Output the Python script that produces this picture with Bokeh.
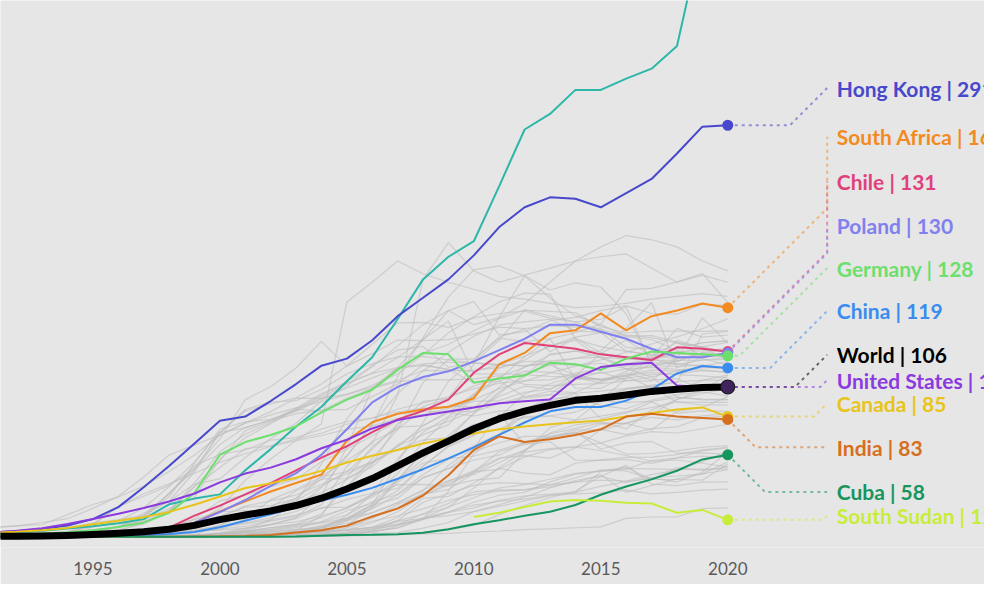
import math
from bokeh.plotting import figure
from bokeh.models import Range1d, FixedTicker
from bokeh.core.properties import value
from bokeh.embed import file_html
from bokeh.resources import INLINE

years = list(range(1990, 2021))
tick_years = [1995, 2000, 2005, 2010, 2015, 2020]
south_sudan_years = list(range(2010, 2021))

# ---- highlighted series (mobile subscriptions per 100 people) ----
macao = [1.5, 2.2, 3.0, 4.2, 5.8, 7.5, 9.5, 12.5, 23, 27,
         30, 47, 62, 78, 92, 110, 127, 154, 182, 198,
         209, 248, 288, 299, 316, 316, 324, 331, 347, 427, 445]
hong_kong = [2.3, 3.0, 4.0, 5.5, 8.0, 12.5, 21, 35, 50, 66,
             82, 85, 96, 108, 121, 126, 139, 156, 169, 182,
             199, 219, 233, 240, 239, 233, 243, 253, 271, 290, 291]
south_africa = [0, 0, 0, 0.1, 0.3, 1.3, 2.3, 3.7, 5.6, 10,
                18, 25, 32, 38, 44, 68, 81, 87, 90, 92,
                98, 122, 130, 144, 146, 158, 146, 156, 160, 165, 162]
chile = [0.1, 0.3, 0.5, 0.7, 0.9, 1.4, 2.2, 2.8, 6.5, 15,
         22, 30, 38, 47, 56, 64, 74, 83, 89, 97,
         116, 129, 137, 135, 133, 129, 127, 125, 134, 133, 131]
poland = [0, 0, 0, 0.1, 0.2, 0.2, 0.5, 2.1, 5, 10,
          17.5, 26, 36, 45, 58, 76, 95, 106, 113, 117,
          124, 132, 140, 150, 150, 145, 140, 133, 127, 127, 130]
germany = [0.3, 0.7, 1.2, 2.2, 3.0, 4.6, 6.9, 10, 17, 31,
           58, 67, 72, 78, 88, 97, 104, 118, 130, 129,
           109, 112, 114, 123, 122, 118, 126, 131, 130, 129, 128]
china = [0, 0, 0, 0.1, 0.1, 0.3, 0.6, 1.1, 1.9, 3.4,
         6.7, 11.4, 16, 20.8, 25.6, 29.7, 34.6, 41, 47.8, 55.4,
         63.2, 72, 80.8, 88.7, 91.8, 91.8, 96.3, 104, 115.5, 120.8, 119.4]
world = [0.2, 0.3, 0.4, 0.6, 1.0, 1.6, 2.5, 3.6, 5.3, 8.1,
         12.1, 15.4, 18.3, 22.1, 27.3, 33.8, 41.2, 50.1, 59.3, 67.7,
         76.4, 83.5, 88.9, 92.9, 96.5, 98.0, 100.3, 102.8, 104.4, 105.6, 106.0]
united_states = [2.1, 3.0, 4.3, 6.1, 9.1, 12.6, 16.3, 20.3, 25, 30.6,
                 38.5, 44.7, 48.9, 54.8, 62.6, 68.6, 76.6, 82.5, 85.7, 88.6,
                 91.4, 94.4, 95.9, 97.1, 112, 120, 122, 123, 107, 106, 106]
canada = [2.1, 2.8, 3.6, 4.6, 6.3, 8.8, 11.4, 13.9, 17.6, 22.7,
          28.5, 34.5, 37.8, 41.8, 46.6, 52.5, 57.3, 61.4, 66, 69.6,
          73, 76, 78, 79.5, 81, 82.3, 85, 87.5, 90, 91.5, 85]
india = [0, 0, 0, 0, 0, 0, 0, 0.1, 0.1, 0.2,
         0.3, 0.6, 1.2, 3.1, 4.7, 7.9, 14.4, 19.9, 29.2, 43.5,
         61.4, 71, 67, 69, 72, 76, 85, 87, 85, 84, 83]
cuba = [0, 0, 0, 0, 0, 0, 0, 0, 0, 0,
        0.1, 0.1, 0.1, 0.2, 0.7, 1.2, 1.4, 1.8, 2.9, 5.4,
        8.9, 11.7, 14.9, 17.7, 22.5, 29.7, 35.6, 40.6, 46.7, 54.7, 58]
south_sudan = [14, 17, 21, 25, 26, 25.5, 24, 23.5, 17, 19, 12]

# ---- background countries ----
grey_italy = [0.5, 1.0, 1.4, 2.1, 3.8, 6.9, 11.1, 20.4, 35.6, 52.9, 74.1, 89.0, 93.9, 98.3, 108.0, 121.0, 136.1, 151.3, 151.6, 148.1, 154.8, 157.9, 159.5, 154.6, 151.8, 146.1, 142.7, 140.8, 137.0, 133.9, 130.3]
grey_finland = [5.2, 6.3, 7.7, 10.1, 12.8, 20.1, 28.6, 42.3, 57.8, 65.0, 72.0, 80.4, 86.2, 91.1, 95.5, 100.5, 107.1, 115.2, 128.8, 144.2, 155.6, 166.0, 172.3, 171.6, 139.6, 134.5, 131.1, 129.0, 129.3, 128.4, 128.0]
grey_sweden = [5.4, 6.6, 7.7, 8.7, 15.7, 22.8, 28.1, 35.8, 46.2, 57.9, 71.8, 80.5, 88.5, 98.0, 97.9, 100.9, 105.6, 110.7, 117.6, 117.4, 117.9, 119.6, 123.9, 124.2, 126.2, 127.1, 125.6, 124.9, 124.7, 124.9, 125.4]
grey_japan = [0.7, 1.1, 1.4, 1.7, 3.5, 9.2, 21.3, 30.4, 37.4, 44.9, 52.6, 58.7, 63.7, 67.9, 71.6, 75.9, 78.4, 83.5, 86.5, 90.8, 96.8, 104.8, 110.0, 115.9, 120.7, 125.1, 130.5, 136.3, 141.4, 147.1, 154.2]
grey_uk = [1.9, 2.2, 2.6, 3.8, 6.4, 9.8, 12.2, 15.1, 25.3, 46.0, 73.8, 77.0, 82.6, 90.8, 101.3, 108.6, 115.5, 119.6, 122.2, 123.4, 122.8, 121.7, 121.1, 121.9, 121.3, 122.7, 118.8, 119.8, 118.4, 117.8, 116.3]
grey_russia = [0, 0, 0, 0, 0, 0.1, 0.2, 0.3, 0.5, 0.9, 2.2, 5.3, 12.1, 24.9, 51.6, 83.6, 105.3, 119.4, 139.3, 160.0, 166.3, 142.6, 145.0, 152.8, 155.1, 159.9, 163.3, 157.9, 157.4, 164.4, 163.6]
grey_brazil = [0, 0, 0, 0, 0.2, 0.8, 1.6, 2.8, 4.4, 8.7, 13.3, 16.4, 19.5, 25.6, 35.7, 46.3, 53.0, 63.6, 78.6, 87.9, 100.9, 119.2, 125.0, 135.3, 138.9, 126.6, 118.9, 113.0, 98.8, 96.8, 96.8]
grey_mexico = [0, 0.2, 0.4, 0.4, 0.6, 0.7, 1.1, 1.8, 3.5, 7.9, 14.1, 21.7, 25.4, 29.5, 37.2, 44.5, 52.6, 61.9, 68.4, 70.1, 79.5, 82.2, 83.9, 85.4, 82.5, 85.3, 88.3, 91.3, 95.4, 95.0, 95.1]
grey_nigeria = [0, 0, 0, 0, 0, 0, 0, 0, 0, 0, 0, 0.3, 1.2, 2.6, 6.6, 13.3, 22.2, 27.3, 41.7, 48.2, 54.3, 57.8, 66.6, 72.8, 76.6, 80.6, 80.2, 75.5, 88.7, 91.4, 99.1]
grey_kenya = [0, 0, 0, 0, 0, 0, 0, 0, 0, 0.1, 0.4, 1.9, 3.5, 4.9, 7.4, 12.7, 19.9, 29.7, 41.8, 48.1, 60.4, 66.5, 71.0, 71.1, 73.3, 79.6, 80.3, 86.7, 97.1, 103.8, 114.2]
grey_ethiopia = [0, 0, 0, 0, 0, 0, 0, 0, 0, 0, 0, 0, 0, 0.1, 0.2, 0.5, 1.1, 1.5, 2.4, 4.8, 8.1, 15.7, 22.3, 27.6, 32.4, 42.8, 50.5, 37.2, 36.2, 38.6, 38.8]
grey_niger = [0, 0, 0, 0, 0, 0, 0, 0, 0, 0, 0, 0, 0.1, 0.2, 1.2, 2.4, 3.7, 6.2, 12.3, 17.4, 24.4, 29.4, 31.4, 38.8, 44.3, 46.5, 49.2, 40.5, 40.5, 40.0, 51.4]
grey_car = [0, 0, 0, 0, 0, 0, 0, 0, 0, 0.1, 0.1, 0.3, 0.3, 0.9, 1.6, 2.4, 3.0, 7.6, 13.5, 17.5, 22.4, 25.0, 26.7, 29.5, 30.4, 31.0, 33.0, 30.3, 31.4, 33.0, 33.7]
grey_eritrea = [0, 0, 0, 0, 0, 0, 0, 0, 0, 0, 0, 0, 0, 0, 0.4, 0.9, 1.2, 1.6, 2.1, 2.4, 3.4, 4.1, 5.0, 5.6, 6.4, 7.0, 13.0, 14.0, 14.0, 20.0, 20.5]
grey_luxembourg = [0.1, 0.2, 0.3, 0.8, 1.4, 3.2, 6.8, 12.5, 30.9, 48.4, 69.2, 97.0, 106.1, 119.4, 138.2, 120.7, 129.5, 139.1, 138.7, 139.4, 143.3, 148.3, 147.2, 149.2, 148.4, 147.3, 133.9, 132.6, 132.8, 137.2, 138.6]
grey_austria = [1.0, 1.5, 2.0, 2.7, 3.5, 4.8, 7.3, 13.9, 28.3, 51.9, 76.2, 81.3, 83.1, 88.7, 97.4, 105.2, 112.4, 119.0, 129.8, 136.0, 145.7, 154.3, 160.5, 156.2, 151.9, 153.8, 162.6, 121.3, 120.3, 121.6, 119.1]
grey_spain = [0.1, 0.3, 0.5, 0.7, 1.1, 2.4, 7.6, 10.9, 17.9, 38.1, 60.1, 72.5, 80.9, 90.1, 89.1, 98.1, 104.9, 109.7, 111.1, 111.0, 111.7, 113.9, 107.8, 106.9, 107.8, 108.3, 110.2, 113.0, 117.4, 119.4, 120.0]
grey_france = [0.5, 0.7, 0.8, 1.1, 1.5, 2.3, 4.2, 10.1, 18.9, 35.5, 49.0, 62.3, 64.3, 69.1, 73.2, 79.6, 84.0, 88.4, 91.0, 92.3, 91.8, 94.2, 97.8, 100.2, 101.5, 103.0, 105.0, 106.5, 109.7, 110.6, 110.9]
grey_indonesia = [0, 0, 0, 0, 0, 0.1, 0.3, 0.5, 0.5, 1.1, 1.7, 3.0, 5.4, 8.4, 13.5, 20.6, 28.1, 40.1, 59.3, 68.8, 87.5, 102.5, 113.4, 129.4, 131.2, 131.5, 147.7, 165.5, 119.3, 126.9, 130.1]
grey_vietnam = [0, 0, 0, 0, 0.1, 0.2, 0.4, 0.7, 1.0, 1.3, 1.0, 1.6, 2.3, 3.4, 6.1, 11.5, 22.5, 52.7, 80.7, 110.0, 125.3, 141.3, 146.7, 130.8, 140.6, 129.9, 126.9, 126.9, 147.4, 141.2, 142.7]
grey_thailand = [0.1, 0.2, 0.5, 0.7, 1.2, 2.2, 3.0, 3.6, 3.2, 3.8, 4.9, 12.2, 26.3, 33.5, 42.5, 46.0, 61.9, 79.7, 92.0, 97.9, 106.7, 111.6, 127.3, 140.1, 144.4, 150.4, 174.8, 175.7, 180.2, 186.2, 165.6]
grey_pakistan = [0, 0, 0, 0, 0, 0, 0.1, 0.1, 0.2, 0.2, 0.2, 0.6, 1.1, 1.6, 3.2, 8.0, 21.2, 38.3, 52.2, 55.3, 57.1, 61.3, 66.8, 70.3, 73.5, 66.4, 71.4, 74.3, 73.4, 76.4, 79.6]
grey_bangladesh = [0, 0, 0, 0, 0, 0, 0, 0.1, 0.1, 0.1, 0.2, 0.4, 0.8, 1.0, 2.0, 6.3, 13.3, 22.9, 30.1, 33.4, 44.9, 55.2, 60.7, 73.4, 79.2, 81.3, 76.4, 89.6, 97.3, 101.3, 105.0]
grey_egypt = [0, 0, 0, 0, 0, 0, 0, 0.1, 0.1, 1.0, 2.1, 4.0, 6.4, 8.2, 10.7, 18.4, 23.7, 39.8, 54.8, 71.5, 87.1, 101.1, 115.2, 121.5, 114.3, 110.9, 113.7, 105.5, 95.3, 93.2, 93.2]
grey_argentina = [0, 0, 0.1, 0.3, 0.5, 1.0, 1.8, 5.6, 7.7, 12.1, 17.6, 18.6, 17.4, 20.5, 34.8, 57.0, 79.9, 101.3, 117.2, 130.5, 141.8, 149.8, 151.9, 153.8, 145.6, 144.5, 141.6, 139.5, 131.6, 125.9, 121.5]
grey_saudi = [0, 0.1, 0.1, 0.1, 0.1, 0.1, 0.2, 0.6, 1.7, 3.9, 6.8, 12.1, 20.8, 32.6, 40.5, 57.3, 79.2, 113.3, 140.8, 169.6, 188.7, 191.5, 184.6, 174.5, 179.6, 176.6, 157.6, 122.1, 122.6, 120.5, 124.1]
grey_korea = [0.2, 0.4, 0.6, 1.1, 2.1, 3.6, 7.0, 15.0, 30.2, 50.4, 58.2, 61.4, 68.4, 70.1, 76.1, 81.5, 84.0, 90.2, 94.7, 99.0, 104.8, 108.5, 110.4, 111.0, 115.7, 118.5, 122.7, 124.9, 129.7, 134.5, 137.5]
grey_turkey = [0.1, 0.1, 0.1, 0.3, 0.3, 0.7, 1.3, 2.6, 5.4, 12.7, 25.4, 29.5, 35.2, 40.8, 53.0, 62.0, 71.3, 82.3, 89.1, 87.8, 85.4, 88.9, 90.1, 92.9, 94.7, 96.0, 95.0, 95.8, 98.6, 97.4, 97.2]
grey_philippines = [0, 0, 0.1, 0.1, 0.2, 0.7, 1.4, 2.0, 2.4, 3.8, 8.3, 15.6, 19.1, 27.4, 40.9, 41.2, 49.6, 65.0, 75.9, 81.6, 89.1, 99.3, 106.5, 104.5, 111.2, 116.6, 110.4, 110.1, 126.2, 154.8, 136.9]
grey_haiti = [0, 0, 0, 0, 0, 0, 0, 0, 0, 0.2, 0.6, 0.9, 1.6, 3.7, 4.8, 15.1, 29.9, 36.9, 37.1, 36.0, 40.1, 41.6, 59.9, 62.3, 63.8, 66.2, 58.5, 58.9, 60.8, 63.3, 64.4]
grey_madagascar = [0, 0, 0, 0, 0, 0, 0, 0.1, 0.1, 0.3, 0.4, 0.9, 1.0, 1.6, 1.8, 2.9, 5.6, 11.4, 24.4, 30.6, 36.4, 38.3, 37.6, 36.7, 38.6, 43.8, 31.4, 36.3, 41.0, 44.5, 52.9]
grey_malawi = [0, 0, 0, 0, 0, 0, 0, 0, 0.2, 0.3, 0.4, 0.5, 0.7, 1.2, 1.8, 3.3, 5.6, 8.3, 12.3, 17.2, 20.4, 25.7, 28.9, 30.2, 31.6, 35.7, 39.0, 41.7, 38.7, 45.6, 60.0]
grey_burundi = [0, 0, 0, 0, 0, 0, 0, 0.1, 0.1, 0.1, 0.3, 0.6, 0.9, 1.0, 1.4, 2.0, 2.5, 2.9, 6.1, 10.1, 17.8, 21.5, 25.4, 28.9, 31.2, 46.1, 48.0, 53.8, 55.7, 57.1, 56.0]
grey_chad = [0, 0, 0, 0, 0, 0, 0, 0, 0, 0, 0, 0.1, 0.4, 0.7, 1.4, 2.1, 4.7, 8.5, 16.3, 23.6, 31.7, 33.2, 33.2, 35.3, 38.8, 40.1, 39.4, 44.0, 47.3, 53.1, 60.2]
grey_estonia = [0.2, 0.5, 0.8, 2.0, 2.9, 4.5, 6.9, 16.8, 25.2, 37.3, 40.9, 56.1, 69.5, 80.3, 96.2, 106.4, 121.3, 132.0, 134.6, 119.8, 123.2, 138.9, 160.2, 159.4, 158.4, 148.6, 144.1, 145.4, 145.4, 145.2, 145.8]
grey_israel = [0.1, 0.3, 0.8, 1.2, 2.7, 8.4, 21.4, 28.7, 36.2, 48.3, 73.4, 90.0, 95.3, 96.3, 104.1, 115.2, 122.4, 127.2, 127.6, 125.0, 123.0, 121.6, 120.7, 122.9, 126.1, 129.8, 126.0, 125.8, 121.6, 125.0, 126.9]
grey_ukraine = [0, 0, 0, 0, 0, 0, 0.1, 0.2, 0.4, 0.5, 1.6, 4.5, 8.6, 13.6, 29.1, 63.3, 105.2, 119.6, 121.0, 118.4, 116.8, 121.8, 127.7, 134.6, 141.2, 144.2, 131.3, 128.4, 125.9, 128.3, 129.3]
grey_morocco = [0, 0, 0, 0, 0, 0, 0.1, 0.3, 0.4, 1.3, 8.1, 15.8, 20.9, 24.3, 31.1, 40.6, 52.1, 64.2, 72.2, 79.1, 100.1, 113.3, 119.7, 128.5, 131.5, 126.9, 120.7, 122.9, 124.2, 130.3, 131.9]
grey_bolivia = [0, 0, 0, 0, 0, 0.1, 0.4, 1.6, 2.9, 5.5, 7.0, 9.2, 11.9, 15.3, 20.1, 26.5, 30.8, 34.2, 49.8, 64.4, 72.3, 82.8, 90.4, 97.7, 99.2, 92.9, 90.5, 96.7, 100.3, 102.5, 99.6]
grey_zimbabwe = [0, 0, 0, 0, 0, 0, 0, 0.1, 0.2, 1.1, 2.1, 2.5, 2.7, 3.0, 3.4, 5.1, 6.4, 9.1, 12.5, 32.2, 58.6, 72.2, 90.8, 95.9, 101.3, 83.4, 87.6, 95.4, 87.5, 89.1, 88.7]
grey_senegal = [0, 0, 0, 0, 0, 0, 0, 0.1, 0.4, 1.4, 2.5, 3.9, 5.0, 7.4, 10.1, 15.6, 24.8, 30.1, 44.0, 54.6, 64.5, 72.6, 85.9, 93.0, 98.2, 100.2, 104.2, 106.1, 103.6, 110.6, 114.5]
grey_colombia = [0, 0, 0, 0, 0.2, 0.7, 1.3, 3.4, 5.2, 4.6, 5.6, 7.3, 11.1, 14.4, 22.6, 49.7, 67.4, 76.1, 90.5, 91.6, 95.7, 96.3, 102.2, 104.2, 114.6, 115.7, 118.5, 125.1, 131.0, 131.5, 133.2]
grey_mongolia = [0, 0, 0, 0, 0, 0, 0, 0.1, 0.3, 1.1, 2.9, 6.1, 8.9, 12.9, 20.6, 21.0, 29.5, 44.7, 67.0, 84.0, 91.1, 105.6, 120.7, 124.2, 105.2, 105.0, 113.3, 126.3, 133.3, 137.2, 138.5]
grey_montenegro = [0, 0, 0, 0, 0, 0.5, 1.5, 3, 6, 10, 20, 40, 55, 68, 80, 166, 180, 195, 186, 180, 175, 170, 168, 165, 162, 163, 165, 168, 170, 172, 170]
grey_panama = [0, 0, 0, 0, 0, 0.1, 0.3, 0.6, 4, 10, 14.6, 21, 22, 27, 43, 54, 66, 100, 182, 208, 188, 180, 185, 190, 195, 198, 200, 190, 180, 185, 180]
grey_uae = [0.5, 1, 1.5, 2.5, 3.5, 5, 7, 12, 20, 28, 55, 70, 80, 90, 100, 110, 120, 135, 150, 160, 150, 155, 165, 180, 195, 205, 213, 210, 205, 195, 188]
grey_peru = [0, 0, 0.1, 0.2, 0.3, 0.3, 0.8, 1.8, 2.9, 4.0, 4.9, 5.9, 8.6, 10.6, 14.8, 20.0, 30.3, 55.0, 73.9, 85.0, 100.1, 110.4, 98.8, 102.9, 102.0, 109.7, 117.1, 121.0, 123.8, 130.1, 128.9]
grey_ghana = [0, 0, 0, 0, 0, 0, 0.1, 0.2, 0.3, 0.4, 0.7, 1.2, 2.0, 3.6, 7.9, 13.1, 23.0, 32.5, 50.0, 63.6, 71.5, 84.8, 101.0, 108.2, 113.7, 129.7, 139.1, 127.5, 137.5, 134.3, 130.2]
grey_tanzania = [0, 0, 0, 0, 0, 0, 0, 0.1, 0.2, 0.3, 0.6, 0.8, 1.7, 3.5, 5.1, 7.6, 14.6, 20.4, 31.0, 39.2, 46.8, 55.7, 57.4, 55.6, 62.8, 75.9, 72.2, 76.5, 77.7, 84.2, 85.3]
grey_uganda = [0, 0, 0, 0, 0, 0, 0, 0.1, 0.2, 0.3, 0.5, 1.1, 1.5, 2.9, 4.0, 4.6, 6.8, 13.6, 27.3, 28.6, 38.0, 48.4, 45.0, 43.8, 52.0, 54.4, 56.2, 56.4, 58.1, 61.5, 63.3]
grey_congo_dr = [0, 0, 0, 0, 0, 0, 0, 0, 0, 0, 0, 0.3, 0.9, 2.2, 3.5, 4.6, 6.8, 10.9, 13.1, 15.0, 17.9, 22.7, 28.0, 34.6, 39.8, 42.7, 38.4, 41.6, 43.0, 44.5, 47.4]
grey_yemen = [0, 0, 0, 0, 0, 0, 0, 0, 0, 0.1, 0.2, 0.8, 2.0, 3.3, 6.2, 9.7, 13.1, 20.9, 29.2, 36.6, 46.1, 47.7, 56.5, 61.6, 63.4, 61.0, 57.5, 53.4, 54.3, 52.0, 49.5]
grey_afghanistan = [0, 0, 0, 0, 0, 0, 0, 0, 0, 0, 0, 0, 0.1, 0.9, 2.5, 4.9, 9.9, 17.7, 29.2, 37.9, 45.8, 60.3, 65.4, 70.7, 74.2, 62.1, 66.4, 67.4, 59.1, 59.4, 58.3]
grey_cameroon = [0, 0, 0, 0, 0, 0, 0, 0, 0, 0.1, 0.7, 2.0, 4.3, 6.5, 9.8, 13.0, 17.2, 24.0, 33.3, 39.8, 44.1, 52.4, 61.5, 70.4, 75.7, 75.4, 80.2, 84.5, 82.7, 85.5, 86.9]
grey_mozambique = [0, 0, 0, 0, 0, 0, 0, 0, 0.1, 0.1, 0.3, 0.8, 1.4, 2.2, 3.6, 7.0, 11.0, 14.7, 19.7, 25.8, 29.8, 32.3, 33.2, 36.7, 41.6, 47.3, 46.6, 40.9, 48.9, 46.9, 49.5]
grey_nepal = [0, 0, 0, 0, 0, 0, 0, 0, 0, 0, 0, 0.1, 0.1, 0.2, 0.4, 0.8, 4.1, 11.4, 15.8, 20.7, 34.6, 49.0, 60.4, 77.2, 82.5, 96.7, 111.7, 123.2, 138.9, 133.4, 125.6]
grey_iran = [0, 0, 0, 0, 0, 0.1, 0.1, 0.4, 0.6, 0.8, 1.5, 3.3, 3.6, 5.3, 6.4, 12.0, 20.3, 40.7, 59.6, 69.7, 73.3, 76.0, 85.0, 85.6, 88.1, 95.3, 104.8, 107.3, 109.1, 143.4, 145.2]
grey_greece = [0, 0, 0, 0.5, 1.4, 2.5, 5.0, 8.9, 18.1, 35.6, 53.9, 75.1, 81.9, 87.1, 89.6, 90.1, 99.1, 108.1, 121.7, 118.4, 108.6, 109.8, 117.1, 116.3, 113.5, 111.3, 114.0, 116.2, 114.6, 113.8, 112.3]
grey_portugal = [0.1, 0.1, 0.4, 1.0, 1.7, 3.4, 6.7, 15.2, 30.9, 47.1, 65.2, 77.4, 82.5, 89.4, 98.4, 108.3, 115.8, 126.7, 139.5, 152.5, 115.1, 115.3, 114.7, 113.4, 112.9, 110.6, 112.1, 114.6, 115.3, 117.5, 116.4]
grey_algeria = [0, 0, 0, 0, 0, 0, 0, 0, 0, 0.1, 0.3, 0.3, 1.3, 4.5, 14.8, 41.6, 63.8, 77.5, 78.5, 88.7, 88.4, 94.3, 99.0, 100.8, 112.7, 108.7, 115.8, 110.8, 111.9, 104.1, 106.3]
grey_guatemala = [0, 0, 0, 0, 0, 0.3, 0.4, 0.6, 1.0, 3.0, 7.6, 9.8, 13.5, 17.9, 25.8, 35.5, 55.4, 75.9, 109.0, 125.7, 125.6, 140.4, 138.0, 140.1, 111.5, 111.5, 114.3, 117.8, 117.2, 120.4, 118.3]
grey_lao = [0, 0, 0, 0, 0, 0, 0, 0, 0.1, 0.2, 0.2, 0.5, 1.0, 2.0, 3.5, 11.3, 16.9, 24.1, 32.6, 50.6, 62.6, 87.1, 65.4, 67.2, 54.2, 54.0, 54.8, 51.9, 55.8, 60.8, 62.9]
grey_papua = [0, 0, 0, 0, 0, 0, 0, 0, 0, 0, 0.2, 0.3, 0.3, 0.3, 0.5, 1.2, 3.8, 6.3, 13.1, 21.2, 27.6, 34.5, 36.9, 40.7, 44.9, 46.7, 48.3, 48.0, 47.5, 47.9, 47.8]
grey_kazakhstan = [0, 0, 0, 0, 0, 0, 0, 0.1, 0.2, 0.3, 1.3, 3.6, 6.5, 8.9, 16.3, 35.6, 51.4, 79.6, 95.7, 97.8, 121.9, 155.5, 184.5, 168.8, 156.2, 150.0, 141.9, 142.3, 137.6, 128.0, 127.0]

grey_series = [grey_italy, grey_finland, grey_sweden, grey_japan, grey_uk, grey_russia,
               grey_brazil, grey_mexico, grey_nigeria, grey_kenya, grey_ethiopia, grey_niger,
               grey_car, grey_eritrea, grey_luxembourg, grey_austria, grey_spain, grey_france,
               grey_indonesia, grey_vietnam, grey_thailand, grey_pakistan, grey_bangladesh,
               grey_egypt, grey_argentina, grey_saudi, grey_korea, grey_turkey, grey_philippines,
               grey_haiti, grey_madagascar, grey_malawi, grey_burundi, grey_chad, grey_estonia,
               grey_israel, grey_ukraine, grey_morocco, grey_bolivia, grey_zimbabwe, grey_senegal,
               grey_colombia, grey_mongolia, grey_montenegro, grey_panama, grey_uae,
               grey_peru, grey_ghana, grey_tanzania, grey_uganda, grey_congo_dr, grey_yemen,
               grey_afghanistan, grey_cameroon, grey_mozambique, grey_nepal, grey_iran,
               grey_greece, grey_portugal, grey_algeria, grey_guatemala, grey_lao,
               grey_papua, grey_kazakhstan]

# labelled series: name, x values, y values, colour, label position (layout, data units)
labelled = [
    ("Hong Kong", years, hong_kong, "#4848cc", 317.3),
    ("South Africa", years, south_africa, "#f38a1f", 282.9),
    ("Chile", years, chile, "#e0417a", 251.2),
    ("Poland", years, poland, "#8080ee", 220.2),
    ("Germany", years, germany, "#6ddf6d", 190.0),
    ("China", years, china, "#3a8cee", 159.7),
    ("World", years, world, "#000000", 128.7),
    ("United States", years, united_states, "#8a3ade", 110.8),
    ("Canada", years, canada, "#e8c41a", 94.3),
    ("India", years, india, "#d66f1e", 63.3),
    ("Cuba", years, cuba, "#16955f", 31.7),
    ("South Sudan", south_sudan_years, south_sudan, "#c8ec3a", 15.1),
]
macao_color = "#2cb7a8"

BG = "#e6e6e6"
W, H = 984, 584
BOTTOM = 37
XR = (1991.36, 2030.11)
YR = (-7.57, 379.2)
FRAME_W, FRAME_H = W, H - BOTTOM
sx = FRAME_W / (XR[1] - XR[0])   # px per year
sy = FRAME_H / (YR[1] - YR[0])   # px per unit

p = figure(width=W, height=H, x_range=Range1d(*XR), y_range=Range1d(*YR),
           output_backend="svg", toolbar_location=None, y_axis_location=None,
           min_border_left=0, min_border_right=0, min_border_top=0,
           min_border_bottom=BOTTOM, background_fill_color=BG,
           border_fill_color=BG, outline_line_color=None)
p.grid.visible = False
ax = p.xaxis[0]
ax.ticker = FixedTicker(ticks=tick_years)
ax.axis_line_color = None
ax.major_tick_line_color = None
ax.minor_tick_line_color = None
ax.major_label_standoff = 8
ax.major_label_text_font = "Lato"
ax.major_label_text_font_size = "17px"
ax.major_label_text_color = "#5a5a5a"

# grey background lines
p.multi_line(xs=[years] * len(grey_series), ys=grey_series,
             line_color="#bdbdbd", line_alpha=0.6, line_width=1.2)

# Macao (unlabelled, goes off the top)
p.line(years, macao, line_color=macao_color, line_width=2)

for name, xs, ys, col, ly in labelled:
    if name == "World":
        continue
    p.line(xs, ys, line_color=col, line_width=2)

p.line(years, world, line_color="#000000", line_width=7, line_join="round")

# connectors (45-degree leader lines in screen space)
DX = 99.4
con_xs, con_ys, con_cols = [], [], []
for name, xs, ys, col, ly in labelled:
    v = ys[-1]
    x_end = xs[-1]
    d = (ly - v) * sy
    if d >= 0:
        if d <= DX:
            pts = [(0, 0), (DX - d, 0), (DX, d)]
        else:
            pts = [(0, 0), (DX, DX), (DX, d)]
    else:
        a = -d
        if a <= DX:
            pts = [(0, 0), (a, -a), (DX, -a)]
        else:
            pts = [(0, 0), (DX, -DX), (DX, -a)]
    con_xs.append([x_end + px / sx for px, py in pts])
    con_ys.append([v + py / sy for px, py in pts])
    con_cols.append(col)
p.multi_line(xs=con_xs, ys=con_ys, line_color=con_cols, line_width=2,
             line_alpha=0.55, line_dash="3 4")

# end dots
for name, xs, ys, col, ly in labelled:
    if name == "World":
        p.scatter([xs[-1]], [ys[-1]], size=15, color="#1a1a1a", line_color=None)
    elif name == "United States":
        p.scatter([xs[-1]], [ys[-1]], size=13, color=col, alpha=0.35, line_color=None)
    else:
        p.scatter([xs[-1]], [ys[-1]], size=11, color=col, line_color=None)

# labels
lab_x = [xs[-1] + 109 / sx for name, xs, ys, col, ly in labelled]
lab_y = [ly for name, xs, ys, col, ly in labelled]
lab_t = [f"{name} | {round(ys[-1])}" for name, xs, ys, col, ly in labelled]
lab_c = [col for name, xs, ys, col, ly in labelled]
p.text(x=lab_x, y=lab_y, text=lab_t, text_color=lab_c,
       text_font=value("Lato"), text_font_size=value("21px"),
       text_font_style="bold", text_baseline="middle", text_align="left")

open("out.html", "w").write(file_html(p, INLINE))
